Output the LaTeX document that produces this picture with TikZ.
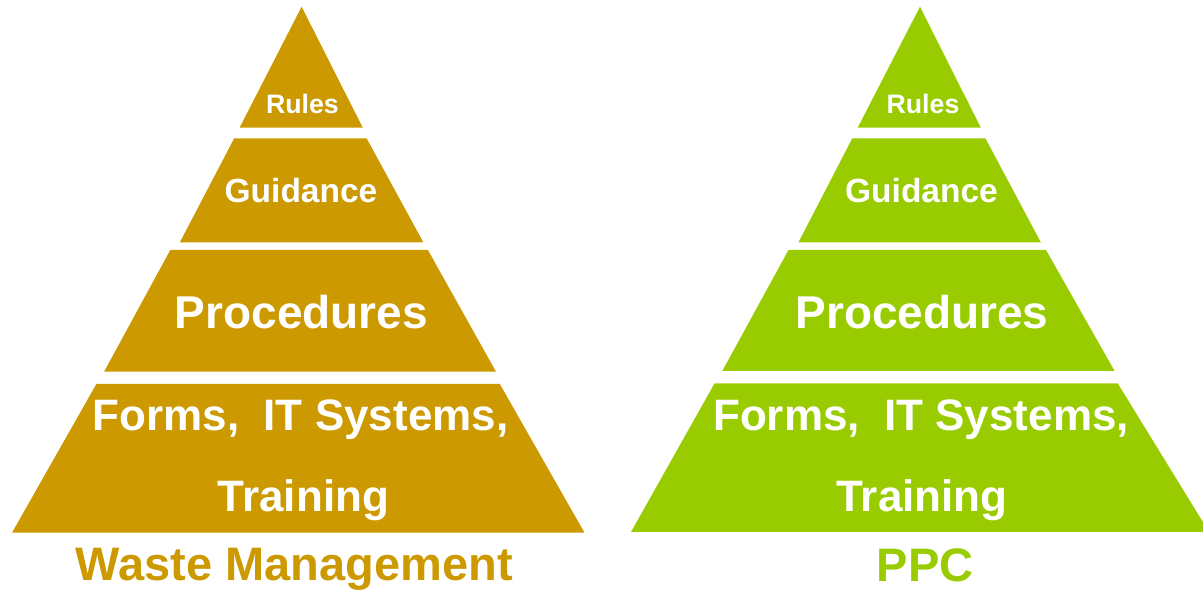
\documentclass[tikz,border=0pt]{standalone}
\usepackage{fontspec}
\setmainfont{Liberation Sans}
\definecolor{wmgold}{HTML}{CC9900}
\definecolor{ppcgreen}{HTML}{99CC00}

\begin{document}
\begin{tikzpicture}[x=1pt, y=-1pt,
    layer/.style={text=white, anchor=base, inner sep=0pt,
      font=\bfseries\fontsize{#1}{#1}\selectfont},
    caption/.style={anchor=base, inner sep=0pt,
      font=\bfseries\fontsize{47}{47}\selectfont}]
  \useasboundingbox (0,0) rectangle (1203,593);

  % waste management pyramid, top band down to the base
  \fill[wmgold] (301.6,6.7) -- (362.8,127.7) -- (239.6,127.7) -- cycle;
  \fill[wmgold] (234.2,138.3) -- (366.6,138.3) -- (423.3,242.3) -- (179.9,242.3) -- cycle;
  \fill[wmgold] (170.3,250) -- (427.9,250) -- (496,371.7) -- (104.1,371.7) -- cycle;
  \fill[wmgold] (96.4,384) -- (499.8,384) -- (584.5,532.7) -- (12,532.7) -- cycle;

  \node[layer=26.7] (wm-rules) at (302.4,114) {Rules};
  \node[layer=33.5] (wm-guide) at (301,203) {Guidance};
  \node[layer=46] (wm-proc) at (301.3,329) {Procedures};
  \node[layer=44] (wm-forms) at (300.5,431) {Forms,~~IT Systems,};
  \node[layer=44] (wm-train) at (303.5,511.7) {Training};
  \node[caption, text=wmgold] (wm-name) at (294.5,580) {Waste Management};

  % ppc pyramid (base runs past the right edge)
  \fill[ppcgreen] (920,6.7) -- (980.8,127.7) -- (857.7,127.7) -- cycle;
  \fill[ppcgreen] (852.3,138.3) -- (985.4,138.3) -- (1040.8,242.3) -- (798.5,242.3) -- cycle;
  \fill[ppcgreen] (788.5,250) -- (1046,250) -- (1114.6,371) -- (722.3,371) -- cycle;
  \fill[ppcgreen] (714.6,383.3) -- (1117.7,383.3) -- (1209,532) -- (631,532) -- cycle;

  \node[layer=26.7] (ppc-rules) at (923,114) {Rules};
  \node[layer=33.5] (ppc-guide) at (921.5,203) {Guidance};
  \node[layer=46] (ppc-proc) at (922,329) {Procedures};
  \node[layer=44] (ppc-forms) at (921,431) {Forms,~~IT Systems,};
  \node[layer=44] (ppc-train) at (922,511.7) {Training};
  \node[caption, text=ppcgreen] (ppc-name) at (925,581) {PPC};
\end{tikzpicture}
\end{document}
